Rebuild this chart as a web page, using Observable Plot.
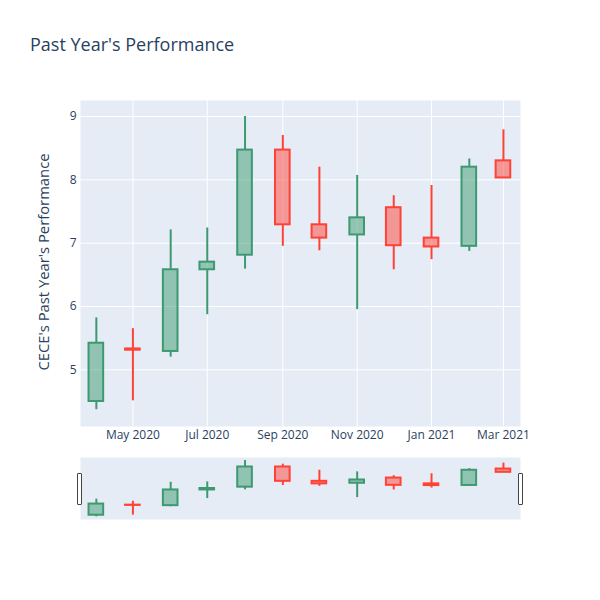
<!DOCTYPE html>
<html><head><meta charset="utf-8">
<script src="https://cdn.jsdelivr.net/npm/d3@7"></script>
<script src="https://cdn.jsdelivr.net/npm/@observablehq/plot@0.6"></script>
<style>
body{margin:0;background:#fff;font-family:"Open Sans",sans-serif;}
#c{position:relative;width:600px;height:600px;overflow:hidden;}
#c > svg, #c > div.p{position:absolute;left:0;}
#title{position:absolute;left:30px;top:32px;font-size:18px;color:#2a3f5f;white-space:nowrap;}
#ylab{position:absolute;left:43px;top:262px;font-size:14.8px;color:#2a3f5f;white-space:nowrap;transform:translate(-50%,-50%) rotate(-90deg);}
.h{position:absolute;width:3px;height:30px;border:1px solid #444;background:#fff;border-radius:1px;}
</style></head><body><div id="c">
<div id="title">Past Year's Performance</div>
<div id="ylab">CECE's Past Year's Performance</div>
</div>
<script>
const dates = ["2020-04-01","2020-05-01","2020-06-01","2020-07-01","2020-08-01","2020-09-01","2020-10-01","2020-11-01","2020-12-01","2021-01-01","2021-02-01","2021-03-01"];
const open  = [4.50,5.33,5.29,6.58,6.81,8.47,7.29,7.13,7.56,7.08,6.95,8.30];
const high  = [5.82,5.65,7.21,7.24,9.00,8.70,8.20,8.07,7.75,7.91,8.33,8.79];
const low   = [4.37,4.51,5.20,5.87,6.59,6.95,6.88,5.95,6.58,6.74,6.87,8.03];
const close = [5.42,5.31,6.58,6.70,8.47,7.29,7.08,7.40,6.96,6.94,8.20,8.03];
const yTicks = [5,6,7,8,9];
const xTickDates = ["2020-05-01","2020-07-01","2020-09-01","2020-11-01","2021-01-01","2021-03-01"];

const UP = "#3D9970", DOWN = "#FF4136";
const DAY = 864e5;
const data = dates.map((d,i)=>({date:new Date(d), open:open[i], high:high[i], low:low[i], close:close[i],
  up: close[i] >= open[i], top: Math.max(open[i],close[i]), bot: Math.min(open[i],close[i])}));
const xTicks = xTickDates.map(d=>new Date(d));
const xDomain = [new Date("2020-03-19"), new Date("2021-03-15")];
const col = d => d.up ? UP : DOWN;

function candles(sw){
  return [
    Plot.ruleX(data, {x:"date", y1:"low", y2:"bot", stroke:col, strokeWidth:sw}),
    Plot.ruleX(data, {x:"date", y1:"top", y2:"high", stroke:col, strokeWidth:sw}),
    Plot.rect(data, {x1:d=>new Date(+d.date-6*DAY), x2:d=>new Date(+d.date+6*DAY), y1:"bot", y2:"top",
      fill:col, fillOpacity:0.5, stroke:col, strokeWidth:sw})
  ];
}

const main = Plot.plot({
  width:600, height:460, marginLeft:80, marginRight:80, marginTop:100, marginBottom:34,
  style:{background:"transparent", fontFamily:"Open Sans, sans-serif", fontSize:"12px", color:"#2a3f5f", overflow:"visible"},
  x:{type:"utc", domain:xDomain},
  y:{domain:[4.105, 9.253]},
  marks:[
    Plot.frame({fill:"#e5ecf6", stroke:null}),
    Plot.gridX(xTicks, {stroke:"#fff", strokeOpacity:1, strokeWidth:1}),
    Plot.gridY(yTicks, {stroke:"#fff", strokeOpacity:1, strokeWidth:1}),
    ...candles(2),
    Plot.axisX(xTicks, {tickSize:0, tickPadding:4, tickFormat:d3.utcFormat("%b %Y"), label:null, fill:"#2a3f5f"}),
    Plot.axisY(yTicks, {tickSize:0, tickPadding:4, tickFormat:d=>String(d), label:null, fill:"#2a3f5f"})
  ]
});
main.style.top = "0px";
document.getElementById("c").appendChild(main);

const slider = Plot.plot({
  width:600, height:62, marginLeft:80, marginRight:80, marginTop:0, marginBottom:0,
  style:{background:"transparent", overflow:"visible"},
  x:{type:"utc", domain:xDomain, axis:null},
  y:{domain:[4.15, 9.25], axis:null},
  marks:[
    Plot.frame({fill:"#e5ecf6", stroke:null}),
    ...candles(2)
  ]
});
slider.style.top = "457px";
document.getElementById("c").appendChild(slider);

for (const left of [77, 518]) {
  const h = document.createElement("div");
  h.className = "h";
  h.style.left = left + "px";
  h.style.top = "473px";
  document.getElementById("c").appendChild(h);
}
</script>
</body></html>
